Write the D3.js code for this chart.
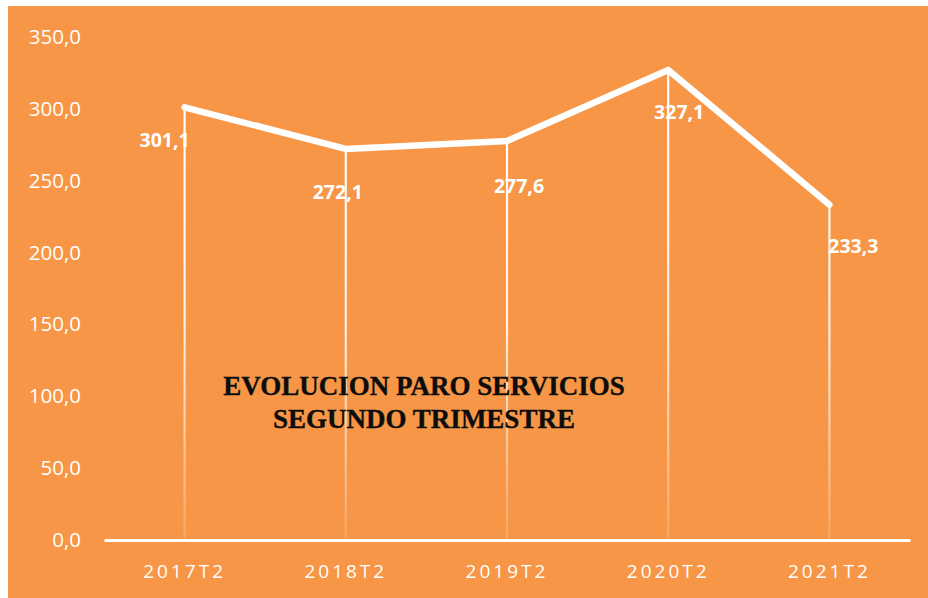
<!DOCTYPE html>
<html lang="es">
<meta charset="utf-8">
<title>Evolucion paro servicios</title>
<style>
    body { margin: 0; background: #ffffff; }
    svg  { display: block; }
</style>
<body>
<svg id="chart"></svg>
<script src="https://cdn.jsdelivr.net/npm/d3@7/dist/d3.min.js"></script>
<script>

    ////////////////////// data ///////////////////////
    var categories  = ["2017T2", "2018T2", "2019T2", "2020T2", "2021T2"];
    var values      = [301.1, 272.1, 277.6, 327.1, 233.3];
    var y_ticks     = [0, 50, 100, 150, 200, 250, 300, 350];
    var title_lines = ["EVOLUCION PARO SERVICIOS", "SEGUNDO TRIMESTRE"];
    ///////////////////////////////////////////////////

    ///////////////// layout / style //////////////////
    var width      = 928;
    var height     = 598;
    var bg_x       = 8;
    var bg_y       = 6;
    var plot_left  = 104;
    var plot_right = 910;
    var plot_top   = 37;
    var plot_bot   = 540;
    var bg_color   = '#f79646';
    var fg_color   = '#ffffff';
    // data label offsets (dx, dy) from each point
    var label_dx   = [-20, -8, 12, 11, 24];
    var label_dy   = [40, 50, 52, 49, 48];
    ///////////////////////////////////////////////////

    var svg = d3.select("#chart")
        .attr('width',  width)
        .attr('height', height);

    svg.append("rect")
        .attr('x', bg_x)
        .attr('y', bg_y)
        .attr('width',  width - bg_x)
        .attr('height', height - bg_y)
        .attr('fill', bg_color);

    var x = d3.scaleBand()
        .domain(categories)
        .range([plot_left, plot_right]);

    var y = d3.scaleLinear()
        .domain([0, 350])
        .range([plot_bot, plot_top]);

    // fading gradient for drop lines
    var grad = svg.append("defs").append("linearGradient")
        .attr('id', 'drop_fade')
        .attr('gradientUnits', 'userSpaceOnUse')
        .attr('x1', 0).attr('x2', 0)
        .attr('y1', y(330)).attr('y2', plot_bot);
    grad.append("stop").attr('offset', '0%')
        .attr('stop-color', fg_color).attr('stop-opacity', 1);
    grad.append("stop").attr('offset', '55%')
        .attr('stop-color', fg_color).attr('stop-opacity', 0.85);
    grad.append("stop").attr('offset', '100%')
        .attr('stop-color', fg_color).attr('stop-opacity', 0.15);

    //////////////////// y axis ///////////////////////
    var y_axis = svg.append("g")
        .attr('transform', 'translate(' + 81 + ',0)')
        .call(d3.axisLeft(y)
            .tickValues(y_ticks)
            .tickSize(0)
            .tickPadding(0)
            .tickFormat(function (d) { return d3.format(".1f")(d).replace('.', ','); }));
    y_axis.select(".domain").remove();
    y_axis.selectAll("text")
        .attr('fill', fg_color)
        .attr('font-family', 'Open Sans, sans-serif')
        .attr('font-size', 20.5);

    //////////////////// x axis ///////////////////////
    var x_axis = svg.append("g")
        .attr('transform', 'translate(0,' + plot_bot + ')')
        .call(d3.axisBottom(x).tickSize(0).tickPadding(25));
    x_axis.select(".domain")
        .attr('stroke', fg_color)
        .attr('stroke-width', 3);
    x_axis.selectAll("text")
        .attr('fill', fg_color)
        .attr('font-family', 'Open Sans, sans-serif')
        .attr('font-size', 19)
        .attr('letter-spacing', 3);

    ////////////////// drop lines /////////////////////
    svg.append("g").selectAll("line")
        .data(values)
        .join("line")
        .attr('x1', function (d, i) { return x(categories[i]) + x.bandwidth() / 2; })
        .attr('x2', function (d, i) { return x(categories[i]) + x.bandwidth() / 2; })
        .attr('y1', function (d) { return y(d); })
        .attr('y2', plot_bot)
        .attr('stroke', 'url(#drop_fade)')
        .attr('stroke-width', 2.2);

    ///////////////////// title ///////////////////////
    svg.append("text")
        .attr('x', 424)
        .attr('y', 395)
        .attr('text-anchor', 'middle')
        .attr('font-family', 'Liberation Serif, serif')
        .attr('font-weight', 'bold')
        .attr('font-size', 27)
        .attr('fill', '#0d0d0d')
        .attr('stroke', '#0d0d0d')
        .attr('stroke-width', 0.35)
        .selectAll("tspan")
        .data(title_lines)
        .join("tspan")
        .attr('x', 424)
        .attr('dy', function (d, i) { return i === 0 ? 0 : 33; })
        .text(function (d) { return d; });

    ////////////////////// line ///////////////////////
    var line = d3.line()
        .x(function (d, i) { return x(categories[i]) + x.bandwidth() / 2; })
        .y(function (d) { return y(d); });

    svg.append("path")
        .datum(values)
        .attr('d', line)
        .attr('fill', 'none')
        .attr('stroke', fg_color)
        .attr('stroke-width', 6.5)
        .attr('stroke-linejoin', 'round')
        .attr('stroke-linecap', 'round');

    ////////////////// data labels ////////////////////
    svg.append("g").selectAll("text")
        .data(values)
        .join("text")
        .attr('x', function (d, i) { return x(categories[i]) + x.bandwidth() / 2 + label_dx[i]; })
        .attr('y', function (d, i) { return y(d) + label_dy[i]; })
        .attr('text-anchor', 'middle')
        .attr('font-family', 'Open Sans, sans-serif')
        .attr('font-weight', 'bold')
        .attr('font-size', 19.5)
        .attr('fill', fg_color)
        .text(function (d) { return d3.format(".1f")(d).replace('.', ','); });

</script>
</body>
</html>
